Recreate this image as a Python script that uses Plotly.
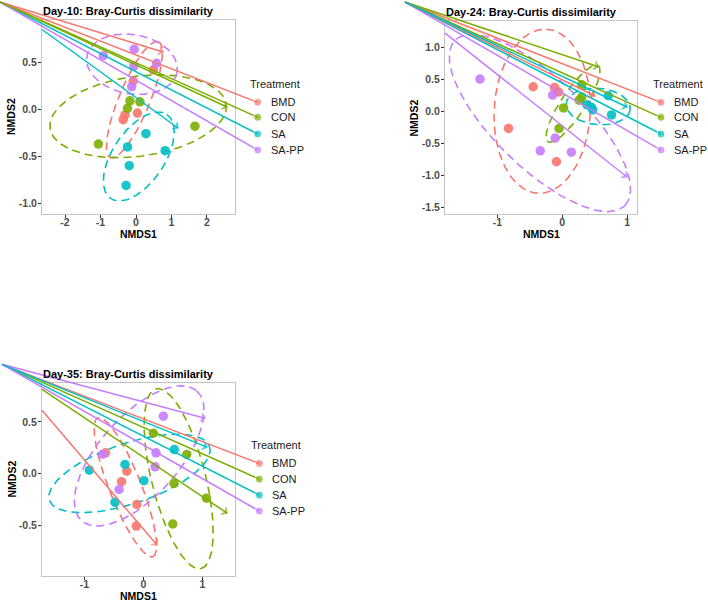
import numpy as np
import plotly.graph_objects as go

W, H = 708, 603
FONT = "Liberation Sans, Arial, Helvetica, sans-serif"
GROUPS = ["BMD", "CON", "SA", "SA-PP"]
COLORS = {"BMD": "#F8766D", "CON": "#7CAE00", "SA": "#00BFC4", "SA-PP": "#C77CFF"}

# ---------------- Day-10 ----------------
d10_x = {
    "BMD": [0.49, -0.08, -0.31, -0.36, 0.04],
    "CON": [-0.17, 0.11, -0.24, -1.06, 1.66],
    "SA": [0.28, -0.24, 0.82, -0.19, -0.28],
    "SA-PP": [-0.92, -0.05, -0.06, 0.58, -0.12],
}
d10_y = {
    "BMD": [0.42, 0.30, -0.06, -0.11, -0.04],
    "CON": [0.09, 0.08, 0.01, -0.37, -0.18],
    "SA": [-0.26, -0.40, -0.44, -0.60, -0.81],
    "SA-PP": [0.57, 0.64, 0.46, 0.49, 0.24],
}
# ellipse semi-axis vectors (ux, uy, vx, vy), centred on group mean
d10_ell = {
    "BMD": [0.676, 0.617, 0.405, -0.063],
    "CON": [2.48, 0.128, 0.152, -0.421],
    "SA": [0.79, 0.447, 0.61, -0.153],
    "SA-PP": [1.27, -0.085, -0.15, -0.31],
}
d10_origin = (-3.831, 1.141)
d10_key_x = 3.428
d10_key_y = [0.074, -0.085, -0.263, -0.433]
d10_arrows = [
    ("BMD", -3.831, 1.141, 0.761, 0.610),
    ("CON", -3.831, 1.141, 2.563, 0.024),
    ("SA", -2.648, 0.849, 1.183, -0.199),
]

# ---------------- Day-24 ----------------
d24_x = {
    "BMD": [-0.45, -0.12, -0.06, -0.83, -0.09],
    "CON": [0.30, 0.30, 0.26, 0.02, -0.05],
    "SA": [0.38, 0.47, 0.71, 0.76, 0.45],
    "SA-PP": [-1.27, -0.15, -0.11, -0.34, 0.14],
}
d24_y = {
    "BMD": [0.38, 0.37, 0.30, -0.27, -0.79],
    "CON": [0.41, 0.22, 0.17, 0.05, -0.27],
    "SA": [0.10, 0.02, 0.24, -0.06, 0.06],
    "SA-PP": [0.50, 0.25, -0.42, -0.62, -0.64],
}
d24_ell = {
    "BMD": [0.062, 1.279, 0.741, -0.031],
    "CON": [0.386, 0.593, 0.154, -0.103],
    "SA": [0.494, -0.047, -0.031, -0.281],
    "SA-PP": [1.312, -1.287, 0.483, 0.504],
}
d24_origin = (-2.427, 1.702)
d24_key_x = 1.523
d24_key_y = [0.137, -0.097, -0.357, -0.607]
d24_arrows = [
    ("CON", -2.427, 1.702, 0.556, 0.693),
    ("BMD", -2.427, 1.702, 0.505, 0.236),
    ("SA", -2.427, 1.702, 0.998, 0.064),
    ("SA-PP", -1.810, 1.218, 0.998, -1.028),
]

# ---------------- Day-35 ----------------
d35_x = {
    "BMD": [-0.64, -0.28, -0.37, -0.11, -0.12],
    "CON": [0.17, 0.735, 0.52, 1.07, 0.50],
    "SA": [-0.915, -0.31, 0.01, -0.48, 0.525],
    "SA-PP": [0.34, 0.215, 0.20, -0.69, -0.41],
}
d35_y = {
    "BMD": [0.20, 0.022, -0.08, -0.30, -0.51],
    "CON": [0.39, 0.184, -0.097, -0.24, -0.49],
    "SA": [0.032, 0.087, -0.07, -0.28, 0.232],
    "SA-PP": [0.555, 0.20, 0.064, 0.187, -0.155],
}
d35_ell = {
    "BMD": [0.466, -0.673, 0.252, 0.057],
    "CON": [0.381, -0.871, 0.444, 0.063],
    "SA": [1.356, 0.261, 0.163, -0.277],
    "SA-PP": [0.975, 0.629, 0.508, -0.257],
}
d35_origin = (-2.395, 1.058)
d35_key_x = 1.966
d35_key_y = [0.097, -0.055, -0.210, -0.365]
d35_arrows = [
    ("SA-PP", -2.395, 1.058, 1.046, 0.535),
    ("SA", -2.395, 1.058, 1.080, 0.255),
    ("CON", -1.717, 0.816, 1.419, -0.384),
    ("BMD", -1.717, 0.613, 0.232, -0.694),
]

panels = [
    dict(title="Day-10: Bray-Curtis dissimilarity", box=(42, 235, 20, 214),
         xrange=(-2.648, 2.789), yrange=(-1.114, 0.950),
         xticks=[-2, -1, 0, 1, 2], yticks=[-1.0, -0.5, 0.0, 0.5],
         x=d10_x, y=d10_y, ell=d10_ell, origin=d10_origin,
         key_x=d10_key_x, key_y=d10_key_y, arrows=d10_arrows),
    dict(title="Day-24: Bray-Curtis dissimilarity", box=(445, 637, 21, 214),
         xrange=(-1.810, 1.153), yrange=(-1.605, 1.406),
         xticks=[-1, 0, 1], yticks=[-1.5, -1.0, -0.5, 0.0, 0.5, 1.0],
         x=d24_x, y=d24_y, ell=d24_ell, origin=d24_origin,
         key_x=d24_key_x, key_y=d24_key_y, arrows=d24_arrows),
    dict(title="Day-35: Bray-Curtis dissimilarity", box=(42, 235, 383, 576),
         xrange=(-1.717, 1.554), yrange=(-0.994, 0.877),
         xticks=[-1, 0, 1], yticks=[-0.5, 0.0, 0.5],
         x=d35_x, y=d35_y, ell=d35_ell, origin=d35_origin,
         key_x=d35_key_x, key_y=d35_key_y, arrows=d35_arrows),
]


def extend(r, d):
    # range of a full-figure axis that lines up with a panel axis
    span = (r[1] - r[0]) / (d[1] - d[0])
    return [r[0] - d[0] * span, r[1] + (1 - d[1]) * span]


fig = go.Figure()
annotations = []
n = len(panels)
t = np.linspace(0, 2 * np.pi, 140)

for i, p in enumerate(panels, start=1):
    sfx = "" if i == 1 else str(i)
    j = i + n
    x0, x1, y0, y1 = p["box"]
    dx = [x0 / W, x1 / W]
    dy = [1 - y1 / H, 1 - y0 / H]

    axis_style = dict(
        showline=True, mirror=True, linecolor="#c4c4c4", linewidth=1,
        ticks="outside", ticklen=3, tickcolor="#333333", tickwidth=1,
        showgrid=False, zeroline=False, fixedrange=True,
        tickfont=dict(family=FONT, size=10.5, color="#4d4d4d", weight="bold"),
    )
    fig.update_layout(**{
        f"xaxis{sfx}": dict(axis_style, domain=dx, range=list(p["xrange"]), anchor=f"y{sfx}",
                            tickvals=p["xticks"], ticktext=[f"{v:d}" for v in p["xticks"]],
                            ticklabelstandoff=-5),
        f"yaxis{sfx}": dict(axis_style, domain=dy, range=list(p["yrange"]), anchor=f"x{sfx}",
                            tickvals=p["yticks"], ticktext=[f"{v:.1f}" for v in p["yticks"]],
                            ticklabelstandoff=-1),
        f"xaxis{j}": dict(domain=[0, 1], range=extend(p["xrange"], dx), anchor=f"y{j}",
                          visible=False, fixedrange=True),
        f"yaxis{j}": dict(domain=[0, 1], range=extend(p["yrange"], dy), anchor=f"x{j}",
                          visible=False, fixedrange=True),
    })

    xa, ya = f"x{sfx}", f"y{sfx}"
    for g in GROUPS:
        xs = np.array(p["x"][g])
        ys = np.array(p["y"][g])
        ux, uy, vx, vy = p["ell"][g]
        fig.add_trace(go.Scatter(
            x=xs.mean() + ux * np.cos(t) + vx * np.sin(t),
            y=ys.mean() + uy * np.cos(t) + vy * np.sin(t),
            mode="lines", line=dict(color=COLORS[g], width=1.6, dash="8px,5px"),
            xaxis=xa, yaxis=ya, hoverinfo="skip", showlegend=False))
    for g in GROUPS:
        fig.add_trace(go.Scatter(
            x=p["x"][g], y=p["y"][g], mode="markers", name=g,
            marker=dict(color=COLORS[g], size=9.5, opacity=0.9),
            xaxis=xa, yaxis=ya, showlegend=False))

    # lines running off to the legend keys
    ox, oy = p["origin"]
    for g, ky in zip(GROUPS, p["key_y"]):
        fig.add_trace(go.Scatter(
            x=[ox, p["key_x"]], y=[oy, ky], mode="lines+markers",
            line=dict(color=COLORS[g], width=1.5),
            marker=dict(color=COLORS[g], size=[0, 8]),
            xaxis=f"x{j}", yaxis=f"y{j}", hoverinfo="skip", showlegend=False))
        annotations.append(dict(
            xref=f"x{j}", yref=f"y{j}", x=p["key_x"], y=ky, text=g, showarrow=False,
            xanchor="left", xshift=11, font=dict(family=FONT, size=11, color="#1a1a1a")))
    annotations.append(dict(
        xref=f"x{j}", yref=f"y{j}", x=p["key_x"], y=p["key_y"][0], text="Treatment",
        showarrow=False, xanchor="left", xshift=-10, yshift=18,
        font=dict(family=FONT, size=11, color="#1a1a1a")))

    # arrows inside the panels
    for g, sx, sy, tx, ty in p["arrows"]:
        fig.add_trace(go.Scatter(
            x=[sx, tx], y=[sy, ty], mode="lines+markers",
            line=dict(color=COLORS[g], width=1.5),
            marker=dict(symbol="arrow-wide-open", size=[0, 6], angleref="previous",
                        color=COLORS[g], line=dict(color=COLORS[g], width=1.3)),
            xaxis=f"x{j}", yaxis=f"y{j}", hoverinfo="skip", showlegend=False))

    # titles
    annotations.append(dict(
        xref=f"x{sfx} domain", yref=f"y{sfx} domain", x=0, y=1, text=p["title"],
        showarrow=False, xanchor="left", yanchor="middle", yshift=9, xshift=-1,
        font=dict(family=FONT, size=11, color="black", weight="bold")))
    annotations.append(dict(
        xref=f"x{sfx} domain", yref=f"y{sfx} domain", x=0.5, y=0, text="NMDS1",
        showarrow=False, xanchor="center", yanchor="middle", yshift=-20,
        font=dict(family=FONT, size=10.5, color="black", weight="bold")))
    annotations.append(dict(
        xref=f"x{sfx} domain", yref=f"y{sfx} domain", x=0, y=0.5, text="NMDS2",
        showarrow=False, xanchor="center", yanchor="middle", xshift=-31, textangle=-90,
        font=dict(family=FONT, size=10.5, color="black", weight="bold")))

fig.update_layout(
    width=W, height=H,
    margin=dict(l=0, r=0, t=0, b=0),
    paper_bgcolor="white",
    plot_bgcolor="rgba(0,0,0,0)",
    showlegend=False,
    annotations=annotations,
    font=dict(family=FONT),
)

# the page's default body margin would push the 708x603 figure off the window
fig.write_html(
    "out.html",
    config={"displayModeBar": False},
    post_script="document.body.style.margin='0';document.body.style.overflow='hidden';",
)
